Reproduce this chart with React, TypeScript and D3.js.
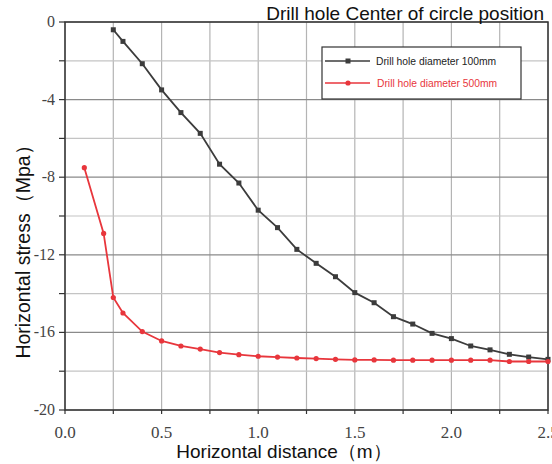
import React from "react";
import * as d3 from "d3";

// distance (m)
const xBlack = [0.25, 0.3, 0.4, 0.5, 0.6, 0.7, 0.8, 0.9, 1.0, 1.1, 1.2, 1.3, 1.4, 1.5, 1.6, 1.7, 1.8, 1.9, 2.0, 2.1, 2.2, 2.3, 2.4, 2.5];
// stress (Mpa), hole diameter 100mm
const yBlack = [-0.4, -1.0, -2.15, -3.5, -4.67, -5.74, -7.33, -8.3, -9.7, -10.6, -11.72, -12.44, -13.13, -13.95, -14.47, -15.19, -15.57, -16.05, -16.32, -16.7, -16.9, -17.13, -17.27, -17.39];

const xRed = [0.1, 0.2, 0.25, 0.3, 0.4, 0.5, 0.6, 0.7, 0.8, 0.9, 1.0, 1.1, 1.2, 1.3, 1.4, 1.5, 1.6, 1.7, 1.8, 1.9, 2.0, 2.1, 2.2, 2.3, 2.4, 2.5];
// stress (Mpa), hole diameter 500mm
const yRed = [-7.51, -10.9, -14.2, -15.0, -15.96, -16.44, -16.7, -16.86, -17.04, -17.15, -17.23, -17.27, -17.32, -17.35, -17.39, -17.42, -17.42, -17.43, -17.43, -17.43, -17.43, -17.43, -17.43, -17.5, -17.5, -17.5];

const xTickLabels = ["0.0", "0.5", "1.0", "1.5", "2.0", "2.5"];
const yTickLabels = ["0", "-4", "-8", "-12", "-16", "-20"];

const seriesNames = ["Drill hole diameter 100mm", "Drill hole diameter 500mm"];
const colors = ["#3c3c3c", "#e8363c"];

const W = 552;
const H = 464;
const margin = { top: 22, right: 4, bottom: 54, left: 65 };

export default function App() {
  const x = d3.scaleLinear().domain([0, 2.5]).range([margin.left, W - margin.right]);
  const y = d3.scaleLinear().domain([-20, 0]).range([H - margin.bottom, margin.top]);

  const xGrid = d3.range(0, 2.5001, 0.25);
  const yGrid = d3.range(-20, 0.001, 2);

  const black = xBlack.map((v, i) => [v, yBlack[i]] as [number, number]);
  const red = xRed.map((v, i) => [v, yRed[i]] as [number, number]);

  const line = d3
    .line<[number, number]>()
    .x((d) => x(d[0]))
    .y((d) => y(d[1]));

  const [x0, x1] = x.range();
  const [y0, y1] = y.range();

  return (
    <svg
      width={W}
      height={H}
      style={{ position: "absolute", left: 0, top: 0, background: "#fff", display: "block" }}
    >
      {/* grid */}
      {xGrid.map((v) => (
        <line key={"gx" + v} x1={x(v)} x2={x(v)} y1={y1} y2={y0} stroke="#b4b4b4" strokeWidth={1.2} />
      ))}
      {yGrid.map((v) => (
        <line
          key={"gy" + v}
          x1={x0}
          x2={x1}
          y1={y(v)}
          y2={y(v)}
          stroke={v % 4 === 0 ? "#8a8a8a" : "#c4c4c4"}
          strokeWidth={1.2}
        />
      ))}

      {/* frame */}
      <rect x={x0} y={y1} width={x1 - x0} height={y0 - y1} fill="none" stroke="#333" strokeWidth={1.5} />

      {/* ticks */}
      {xGrid.map((v) => (
        <line key={"tx" + v} x1={x(v)} x2={x(v)} y1={y0} y2={y0 + 4} stroke="#333" strokeWidth={1.2} />
      ))}
      {yGrid.map((v) => (
        <line key={"ty" + v} x1={x0 - 6} x2={x0} y1={y(v)} y2={y(v)} stroke="#333" strokeWidth={1.2} />
      ))}

      {/* tick labels */}
      {xTickLabels.map((t) => (
        <text
          key={"lx" + t}
          x={x(+t)}
          y={y0 + 28}
          textAnchor="middle"
          fontFamily="'Liberation Serif', 'DejaVu Serif', serif"
          fontSize={17}
          fill="#444"
        >
          {t}
        </text>
      ))}
      {yTickLabels.map((t) => (
        <text
          key={"ly" + t}
          x={x0 - 10}
          y={y(+t) + 5}
          textAnchor="end"
          fontFamily="'Liberation Serif', 'DejaVu Serif', serif"
          fontSize={16}
          fill="#444"
        >
          {t}
        </text>
      ))}

      {/* axis titles */}
      <text x={284} y={458} textAnchor="middle" fontFamily="'Liberation Sans', Arial, sans-serif" fontSize={19} fill="#111">
        Horizontal distance（m）
      </text>
      <text
        transform={`translate(30, 247) rotate(-90)`}
        textAnchor="middle"
        fontFamily="'Liberation Sans', Arial, sans-serif"
        fontSize={19.5}
        fill="#111"
      >
        Horizontal stress（Mpa）
      </text>
      <text x={544} y={20} textAnchor="end" fontFamily="'Liberation Sans', Arial, sans-serif" fontSize={19} fill="#111">
        Drill hole Center of circle position
      </text>

      {/* series */}
      <path d={line(black) ?? ""} fill="none" stroke={colors[0]} strokeWidth={1.8} />
      {black.map((d, i) => (
        <rect key={"mb" + i} x={x(d[0]) - 2.5} y={y(d[1]) - 2.5} width={5} height={5} fill={colors[0]} />
      ))}
      <path d={line(red) ?? ""} fill="none" stroke={colors[1]} strokeWidth={1.8} />
      {red.map((d, i) => (
        <circle key={"mr" + i} cx={x(d[0])} cy={y(d[1])} r={2.6} fill={colors[1]} />
      ))}

      {/* legend */}
      <rect x={322} y={47} width={199} height={52} fill="#fff" stroke="#333" strokeWidth={1.2} />
      {seriesNames.map((name, i) => (
        <g key={name} transform={`translate(0, ${61 + i * 22})`}>
          <line x1={325} x2={370} y1={0} y2={0} stroke={colors[i]} strokeWidth={1.6} />
          {i === 0 ? (
            <rect x={345.5} y={-2.5} width={5} height={5} fill={colors[i]} />
          ) : (
            <circle cx={348} cy={0} r={2.6} fill={colors[i]} />
          )}
          <text
            x={376 + i}
            y={3.5}
            fontFamily="'Liberation Sans', Arial, sans-serif"
            fontSize={10.3}
            fill={i === 0 ? "#222" : colors[i]}
          >
            {name}
          </text>
        </g>
      ))}
    </svg>
  );
}
